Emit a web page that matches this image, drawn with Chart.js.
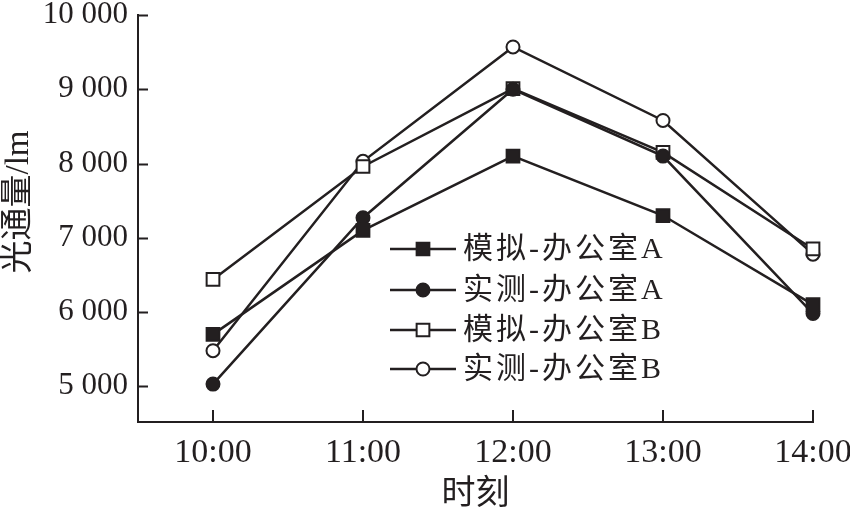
<!DOCTYPE html>
<html>
<head>
<meta charset="utf-8">
<script src="https://cdn.jsdelivr.net/npm/chart.js@4.4.0/dist/chart.umd.min.js"></script>
<style>
  html, body { margin: 0; padding: 0; background: #fff; }
  #wrap { width: 850px; height: 515px; }
</style>
</head>
<body>
<div id="wrap"><canvas id="fluxChart" width="850" height="515"></canvas></div>
<script>
// data
const hours = [10, 11, 12, 13, 14];
const timeLabels = ['10:00', '11:00', '12:00', '13:00', '14:00'];
const yTickValues = [5000, 6000, 7000, 8000, 9000, 10000];
const simA = [5700, 7100, 8100, 7300, 6100];
const measA = [5030, 7270, 9000, 8100, 5980];
const simB = [6440, 7960, 9010, 8150, 6850];
const measB = [5480, 8030, 9570, 8580, 6780];

const ink = '#231f20';
const serif = '"Liberation Serif", "Times New Roman", "Noto Sans CJK SC", serif';
const cjk = '"Liberation Serif", "Noto Sans CJK SC", serif';

function series(label, values, style, filled, radius) {
    return {
        label: label,
        data: values.map((v, i) => ({ x: hours[i], y: v })),
        borderColor: ink,
        borderWidth: 2.5,
        pointStyle: style,
        pointRadius: radius,
        pointHoverRadius: radius,
        pointBorderWidth: 2,
        pointBorderColor: ink,
        pointBackgroundColor: filled ? ink : '#ffffff',
        tension: 0,
        clip: false
    };
}

// ticks that point inward from the axes
const innerTicks = {
    id: 'innerTicks',
    afterDraw(chart) {
        const ctx = chart.ctx;
        const xs = chart.scales.x, ys = chart.scales.y;
        const area = chart.chartArea;
        ctx.save();
        ctx.strokeStyle = ink;
        ctx.lineWidth = 2;
        ctx.beginPath();
        ys.ticks.forEach(t => {
            const py = Math.round(ys.getPixelForValue(t.value)) + 0.5;
            ctx.moveTo(area.left, py);
            ctx.lineTo(area.left + 10, py);
        });
        xs.ticks.forEach(t => {
            const px = Math.round(xs.getPixelForValue(t.value));
            ctx.moveTo(px, area.bottom);
            ctx.lineTo(px, area.bottom - 12);
        });
        ctx.stroke();
        ctx.restore();
    }
};

// legend drawn inside the plot
const innerLegend = {
    id: 'innerLegend',
    afterDraw(chart) {
        const ctx = chart.ctx;
        const x0 = 390, lineLen = 66, textX = 463;
        const rowY = [249, 290, 330, 369];
        ctx.save();
        chart.data.datasets.forEach((ds, i) => {
            const y = rowY[i];
            ctx.strokeStyle = ink;
            ctx.lineWidth = 2.5;
            ctx.beginPath();
            ctx.moveTo(x0, y);
            ctx.lineTo(x0 + lineLen, y);
            ctx.stroke();
            ctx.fillStyle = ds.pointBackgroundColor;
            ctx.strokeStyle = ink;
            ctx.lineWidth = 2;
            Chart.helpers.drawPoint(ctx, {
                pointStyle: ds.pointStyle,
                radius: ds.pointRadius,
                rotation: 0,
                borderWidth: 2
            }, x0 + lineLen / 2, y);
            ctx.fillStyle = ink;
            ctx.font = '30px ' + cjk;
            ctx.letterSpacing = '3px';
            ctx.textBaseline = 'middle';
            ctx.textAlign = 'left';
            ctx.fillText(ds.label, textX, y + 1);
        });
        ctx.restore();
    }
};

const ctx = document.getElementById('fluxChart').getContext('2d');
const fluxChart = new Chart(ctx, {
    type: 'line',
    data: {
        datasets: [
            series('模拟-办公室A', simA, 'rect', true, 9),
            series('实测-办公室A', measA, 'circle', true, 6.5),
            series('模拟-办公室B', simB, 'rect', false, 9),
            series('实测-办公室B', measB, 'circle', false, 6.5)
        ]
    },
    options: {
        responsive: false,
        animation: false,
        layout: { padding: { top: 15, right: 37, bottom: 0, left: 0 } },
        plugins: {
            legend: { display: false },
            tooltip: { enabled: false }
        },
        scales: {
            x: {
                type: 'linear',
                min: 9.5,
                max: 14,
                afterBuildTicks: axis => { axis.ticks = hours.map(v => ({ value: v })); },
                afterFit: axis => { axis.height = 93; axis.paddingLeft = 0; axis.paddingRight = 0; },
                grid: { display: false, drawTicks: false },
                border: { display: true, color: ink, width: 2 },
                ticks: {
                    color: ink,
                    padding: 11,
                    maxRotation: 0,
                    font: { family: serif, size: 34 },
                    callback: value => timeLabels[hours.indexOf(value)]
                },
                title: {
                    display: true,
                    text: '时刻',
                    color: ink,
                    padding: { top: 0, bottom: 0 },
                    font: { family: cjk, size: 34 }
                }
            },
            y: {
                min: 4520,
                max: 10000,
                afterBuildTicks: axis => { axis.ticks = yTickValues.map(v => ({ value: v })); },
                afterFit: axis => { axis.width = 138; axis.paddingTop = 0; axis.paddingBottom = 0; },
                grid: { display: false, drawTicks: false },
                border: { display: true, color: ink, width: 2 },
                ticks: {
                    color: ink,
                    padding: 10,
                    font: { family: serif, size: 31 },
                    callback: value => value.toLocaleString('en-US').replace(',', ' ')
                },
                title: {
                    display: true,
                    text: '\u2002\u2002光通量/lm',
                    color: ink,
                    padding: 0,
                    font: { family: cjk, size: 33 }
                }
            }
        }
    },
    plugins: [innerTicks, innerLegend]
});
</script>
</body>
</html>
